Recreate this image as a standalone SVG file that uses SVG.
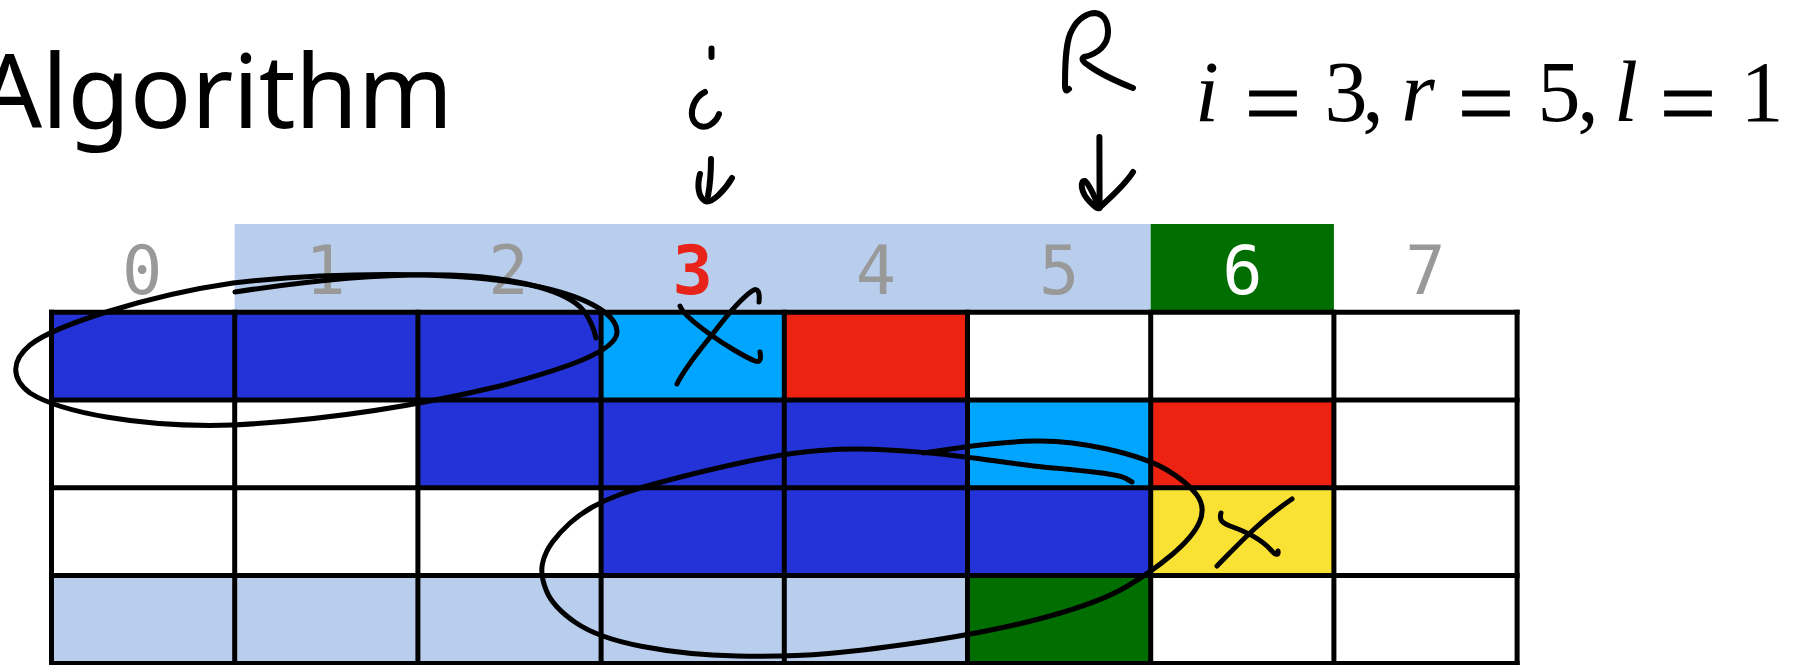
<svg xmlns="http://www.w3.org/2000/svg" width="1795" height="665" viewBox="0 0 1795 665">
  <style>
    .title { font-family: "Noto Sans", "Open Sans", sans-serif; font-size: 102px; fill: #000; }
    .idx { font-family: "DejaVu Sans Mono", "Liberation Mono", monospace; font-size: 67px; fill: #999999; text-anchor: middle; }
    .idx-cur { fill: #E8231A; font-weight: bold; }
    .idx-end { fill: #FFFFFF; }
    .math { font-family: "Liberation Serif", "Times New Roman", serif; font-size: 86px; fill: #000; text-anchor: middle; }
    .var { font-style: italic; }
    .eq { font-size: 100px; stroke: #000; stroke-width: 1.2; }
    .grid { stroke: #000; stroke-width: 5; stroke-linecap: square; fill: none; }
    .ink { fill: none; stroke: #000; stroke-width: 5; stroke-linecap: round; stroke-linejoin: round; }
    .ink-thick { stroke-width: 6; }
    .c-dark { fill: #2433D8; }
    .c-cyan { fill: #00A5FF; }
    .c-red { fill: #EE2211; }
    .c-yellow { fill: #F9E233; }
    .c-green { fill: #006E00; }
    .c-pale { fill: #B8CEEC; }
    .c-white { fill: #FFFFFF; }
  </style>

  <rect width="1795" height="665" fill="#FFFFFF"/>

  <!-- heading -->
  <g id="title">
    <text class="title" x="-23" y="128" textLength="476">Algorithm</text>
  </g>

  <!-- current values -->
  <g id="values">
    <text class="math"><tspan class="var" x="1207" y="121">i</tspan><tspan class="eq" x="1273" y="137">=</tspan><tspan x="1346" y="121">3</tspan><tspan x="1373" y="121">,</tspan><tspan class="var" x="1418" y="121">r</tspan><tspan class="eq" x="1486" y="137">=</tspan><tspan x="1559" y="121">5</tspan><tspan x="1588" y="121">,</tspan><tspan class="var" x="1626" y="121">l</tspan><tspan class="eq" x="1688" y="137">=</tspan><tspan x="1762" y="121">1</tspan></text>
  </g>

  <!-- index header row -->
  <g id="header">
    <rect class="c-pale" x="234.7" y="224" width="916" height="88.2"/>
    <rect class="c-green" x="1150.7" y="224" width="183.2" height="88.2"/>
    <text class="idx" x="142.1" y="294">0</text>
    <text class="idx" x="325.3" y="294">1</text>
    <text class="idx" x="508.5" y="294">2</text>
    <text class="idx idx-cur" x="692.7" y="294">3</text>
    <text class="idx" x="875.9" y="294">4</text>
    <text class="idx" x="1059.1" y="294">5</text>
    <text class="idx idx-end" x="1242.3" y="294">6</text>
    <text class="idx" x="1425.5" y="294">7</text>
  </g>

  <!-- table cells -->
  <g id="cells">
    <!-- row 0 -->
    <rect class="c-dark" x="51.5" y="312.2" width="549.6" height="87.8"/>
    <rect class="c-cyan" x="601.1" y="312.2" width="183.2" height="87.8"/>
    <rect class="c-red" x="784.3" y="312.2" width="183.2" height="87.8"/>
    <rect class="c-white" x="967.5" y="312.2" width="549.6" height="87.8"/>
    <!-- row 1 -->
    <rect class="c-white" x="51.5" y="400" width="366.4" height="87.8"/>
    <rect class="c-dark" x="417.9" y="400" width="549.6" height="87.8"/>
    <rect class="c-cyan" x="967.5" y="400" width="183.2" height="87.8"/>
    <rect class="c-red" x="1150.7" y="400" width="183.2" height="87.8"/>
    <rect class="c-white" x="1333.9" y="400" width="183.2" height="87.8"/>
    <!-- row 2 -->
    <rect class="c-white" x="51.5" y="487.8" width="549.6" height="87.8"/>
    <rect class="c-dark" x="601.1" y="487.8" width="549.6" height="87.8"/>
    <rect class="c-yellow" x="1150.7" y="487.8" width="183.2" height="87.8"/>
    <rect class="c-white" x="1333.9" y="487.8" width="183.2" height="87.8"/>
    <!-- row 3 -->
    <rect class="c-pale" x="51.5" y="575.6" width="916" height="87.8"/>
    <rect class="c-green" x="967.5" y="575.6" width="183.2" height="87.8"/>
    <rect class="c-white" x="1150.7" y="575.6" width="366.4" height="87.8"/>
  </g>

  <!-- table rules -->
  <g id="grid" class="grid">
    <path d="M51.5,312.2H1517.1M51.5,400H1517.1M51.5,487.8H1517.1M51.5,575.6H1517.1M51.5,663.4H1517.1"/>
    <path d="M51.5,312.2V663.4M234.7,312.2V663.4M417.9,312.2V663.4M601.1,312.2V663.4M784.3,312.2V663.4M967.5,312.2V663.4M1150.7,312.2V663.4M1333.9,312.2V663.4M1517.1,312.2V663.4"/>
  </g>

  <!-- handwritten marks -->
  <g id="ink">
    <!-- pointer i -->
    <g id="pointer-i">
      <path class="ink ink-thick" d="M711.5,48.5 L711.5,57"/>
      <path class="ink ink-thick" d="M705,92 C695,97 691,108 692,116 C694,126 703,129 710,125 C715,122 718,117 719,114"/>
      <path class="ink ink-thick" d="M711,159 C711,172 710,185 708,196"/>
      <path class="ink ink-thick" d="M700,174 C697,185 698,197 705,201 C712,204 725,190 732,178"/>
    </g>
    <!-- pointer R -->
    <g id="pointer-r">
      <path class="ink ink-thick" d="M1069,89 C1066,92 1065,90 1065,85 C1065,60 1066,40 1072,30 C1078,18 1088,13 1095,13 C1104,14 1108,22 1108,32 C1108,45 1098,54 1084,57 C1081,59 1083,62 1088,65 C1100,74 1118,82 1133,88"/>
      <path class="ink ink-thick" d="M1099.4,137 L1099.6,208"/>
      <path class="ink ink-thick" d="M1099,207 C1095,198 1090,185 1085,181 C1080,180 1080,192 1090,202 C1094,206 1097,209 1099,208 C1110,198 1125,185 1133,172"/>
    </g>
    <!-- loop over row 0 -->
    <g id="loop-top">
      <path class="ink" d="M233,283 C330,272 460,270 540,287 C590,298 617,315 617,332 C617,352 560,370 500,386 C420,405 330,420 233,425 C140,428 60,412 30,393 C10,378 12,360 30,345 C55,325 150,295 233,283 Z"/>
      <path class="ink" d="M235,292 C300,282 380,273 450,275 C520,277 568,292 583,310 C590,319 594,329 596,338"/>
    </g>
    <!-- cross in cyan cell -->
    <g id="cross-a">
      <path class="ink" d="M680,306 C682,312 690,320 711,335 C725,345 745,357 755,361 C761,363 761,358 760,352"/>
      <path class="ink" d="M677,384 C685,367 700,350 715,331 C728,314 742,298 752,291 C758,287 760,292 759,302"/>
    </g>
    <!-- loop over rows 1-3 -->
    <g id="loop-bottom">
      <path class="ink" d="M923,453 L961.5,447.5 Q1000,442 1033.5,441 Q1067,440 1107,449 Q1147,458 1167,470 Q1187,482 1196.5,494.5 Q1206,507 1199.5,522 Q1193,537 1171.5,555 Q1150,573 1125,587.5 Q1100,602 1050,616 Q1000,630 935,640 Q870,650 828.5,653.5 Q787,657 737,656 Q687,655 642.5,646.5 Q598,638 575.5,622.5 Q553,607 546.5,591 Q540,575 542.5,563.5 Q545,552 552.5,542 Q560,532 570,523 Q580,514 592.5,507 Q605,500 620,494.5 Q635,489 671,479.5 Q707,470 747,461.5 Q787,453 820,450.5 Q853,448 888,450 Q923,452 945,454.5 Q967,457 1003.5,462 Q1040,467 1053.5,468 Q1067,469 1093.5,472 Q1120,475 1126,478.5 L1132,482"/>
    </g>
    <!-- cross in yellow cell -->
    <g id="cross-b">
      <path class="ink" d="M1221,513 C1219,520 1222,523 1230,526 C1250,533 1262,540 1271,550 C1275,555 1279,556 1278,551"/>
      <path class="ink" d="M1217,566 C1235,548 1258,522 1292,499"/>
    </g>
  </g>
</svg>
